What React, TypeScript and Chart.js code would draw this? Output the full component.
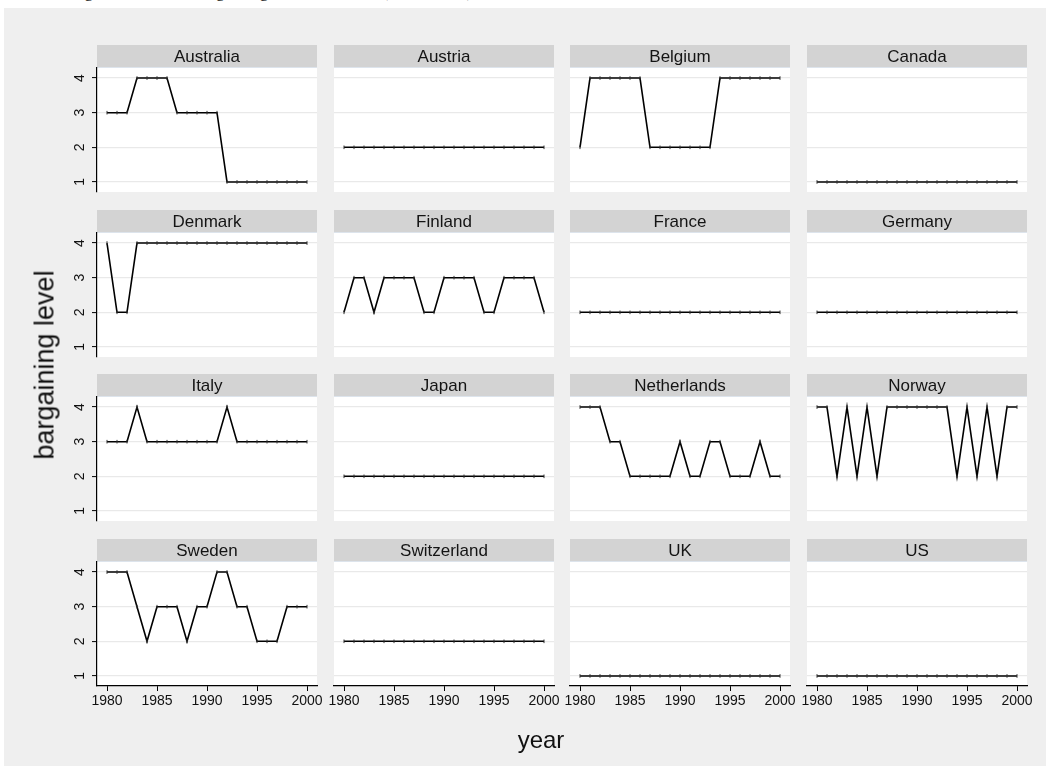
import React, { useEffect, useRef } from "react";
import { Chart, registerables } from "chart.js";

Chart.register(...registerables);

// ---------------- data ----------------
const years = [1980, 1981, 1982, 1983, 1984, 1985, 1986, 1987, 1988, 1989, 1990, 1991, 1992, 1993, 1994, 1995, 1996, 1997, 1998, 1999, 2000];
const countries = ["Australia", "Austria", "Belgium", "Canada", "Denmark", "Finland", "France", "Germany", "Italy", "Japan", "Netherlands", "Norway", "Sweden", "Switzerland", "UK", "US"];
const australia = [3, 3, 3, 4, 4, 4, 4, 3, 3, 3, 3, 3, 1, 1, 1, 1, 1, 1, 1, 1, 1];
const austria = [2, 2, 2, 2, 2, 2, 2, 2, 2, 2, 2, 2, 2, 2, 2, 2, 2, 2, 2, 2, 2];
const belgium = [2, 4, 4, 4, 4, 4, 4, 2, 2, 2, 2, 2, 2, 2, 4, 4, 4, 4, 4, 4, 4];
const canada = [1, 1, 1, 1, 1, 1, 1, 1, 1, 1, 1, 1, 1, 1, 1, 1, 1, 1, 1, 1, 1];
const denmark = [4, 2, 2, 4, 4, 4, 4, 4, 4, 4, 4, 4, 4, 4, 4, 4, 4, 4, 4, 4, 4];
const finland = [2, 3, 3, 2, 3, 3, 3, 3, 2, 2, 3, 3, 3, 3, 2, 2, 3, 3, 3, 3, 2];
const france = [2, 2, 2, 2, 2, 2, 2, 2, 2, 2, 2, 2, 2, 2, 2, 2, 2, 2, 2, 2, 2];
const germany = [2, 2, 2, 2, 2, 2, 2, 2, 2, 2, 2, 2, 2, 2, 2, 2, 2, 2, 2, 2, 2];
const italy = [3, 3, 3, 4, 3, 3, 3, 3, 3, 3, 3, 3, 4, 3, 3, 3, 3, 3, 3, 3, 3];
const japan = [2, 2, 2, 2, 2, 2, 2, 2, 2, 2, 2, 2, 2, 2, 2, 2, 2, 2, 2, 2, 2];
const netherlands = [4, 4, 4, 3, 3, 2, 2, 2, 2, 2, 3, 2, 2, 3, 3, 2, 2, 2, 3, 2, 2];
const norway = [4, 4, 2, 4, 2, 4, 2, 4, 4, 4, 4, 4, 4, 4, 2, 4, 2, 4, 2, 4, 4];
const sweden = [4, 4, 4, 3, 2, 3, 3, 3, 2, 3, 3, 4, 4, 3, 3, 2, 2, 2, 3, 3, 3];
const switzerland = [2, 2, 2, 2, 2, 2, 2, 2, 2, 2, 2, 2, 2, 2, 2, 2, 2, 2, 2, 2, 2];
const uk = [1, 1, 1, 1, 1, 1, 1, 1, 1, 1, 1, 1, 1, 1, 1, 1, 1, 1, 1, 1, 1];
const us = [1, 1, 1, 1, 1, 1, 1, 1, 1, 1, 1, 1, 1, 1, 1, 1, 1, 1, 1, 1, 1];
const xTicks = [1980, 1985, 1990, 1995, 2000];
const yTicks = [1, 2, 3, 4];
const xTitle = "year";
const yTitle = "bargaining level";
const pageTitle = "Figure 1: Central bargaining level over time (1980\u20132000)";

const seriesList = [australia, austria, belgium, canada, denmark, finland, france, germany, italy, japan, netherlands, norway, sweden, switzerland, uk, us];

// ---------------- layout ----------------
const COL0 = 97;
const COL_STEP = 236.67;
const PANEL_W = 220;
const ROW0 = 45;
const ROW_STEP = 164.67;
const HEADER_H = 23;
const PLOT_H = 124;
const MARGIN_L = 45;
const MARGIN_R = 20;
const MARGIN_B = 45;
const FONT = '"Liberation Sans", Arial, Helvetica, sans-serif';

const stripPlugin = {
  id: "panelStrip",
  beforeDraw(chart: any, _args: any, opts: any) {
    const { ctx, chartArea: a } = chart;
    ctx.save();
    ctx.fillStyle = "#ffffff";
    ctx.fillRect(a.left, a.top, a.right - a.left, a.bottom - a.top);
    ctx.fillStyle = "#d3d3d3";
    ctx.fillRect(a.left, a.top - HEADER_H, a.right - a.left, HEADER_H);
    ctx.fillStyle = "#dde4ec";
    ctx.fillRect(a.left, a.top - 1, a.right - a.left, 1);
    ctx.fillStyle = "#141414";
    ctx.font = "17px " + FONT;
    ctx.textAlign = "center";
    ctx.textBaseline = "middle";
    ctx.fillText(opts.label, (a.left + a.right) / 2, a.top - HEADER_H / 2 + 1);
    ctx.restore();
  },
};

function Panel({ index }: { index: number }) {
  const ref = useRef<HTMLCanvasElement | null>(null);
  const col = index % 4;
  const row = Math.floor(index / 4);
  const isLeft = col === 0;
  const isBottom = row === 3;
  const left = Math.round(COL0 + col * COL_STEP) - MARGIN_L;
  const top = Math.round(ROW0 + row * ROW_STEP);
  const width = MARGIN_L + PANEL_W + MARGIN_R;
  const height = HEADER_H + PLOT_H + MARGIN_B;

  useEffect(() => {
    if (!ref.current) return;
    const vals = seriesList[index];
    const chart = new Chart(ref.current, {
      type: "line",
      data: {
        datasets: [
          {
            data: years.map((y, i) => ({ x: y, y: vals[i] })),
            borderColor: "#000000",
            borderWidth: 1.6,
            tension: 0,
            pointStyle: "line",
            pointRotation: 90,
            pointRadius: 1.8,
            pointBorderWidth: 1,
            pointBorderColor: "#333333",
            pointBackgroundColor: "#333333",
          },
        ],
      },
      options: {
        animation: false,
        responsive: false,
        events: [],
        layout: {
          padding: {
            top: HEADER_H,
            left: isLeft ? 0 : MARGIN_L,
            right: MARGIN_R,
            bottom: isBottom ? 0 : MARGIN_B,
          },
        },
        plugins: {
          legend: { display: false },
          tooltip: { enabled: false },
          panelStrip: { label: countries[index] },
        } as any,
        scales: {
          x: {
            type: "linear",
            min: 1979,
            max: 2001,
            display: isBottom,
            afterBuildTicks: (s: any) => {
              s.ticks = xTicks.map((v) => ({ value: v }));
            },
            afterFit: (s: any) => {
              s.height = isBottom ? MARGIN_B : 0;
            },
            grid: {
              display: true,
              drawOnChartArea: false,
              drawTicks: true,
              tickLength: 5,
              tickColor: "#000000",
              tickWidth: 1,
            },
            border: { display: true, color: "#000000", width: 1.2 },
            ticks: {
              color: "#111111",
              font: { family: FONT, size: 14 },
              padding: 2,
              maxRotation: 0,
              minRotation: 0,
              autoSkip: false,
              callback: (v: any) => String(v),
            },
          },
          y: {
            type: "linear",
            min: 0.71,
            max: 4.29,
            display: true,
            afterBuildTicks: (s: any) => {
              s.ticks = yTicks.map((v) => ({ value: v }));
            },
            afterFit: (s: any) => {
              s.width = isLeft ? MARGIN_L : 0;
            },
            grid: {
              display: true,
              drawOnChartArea: true,
              drawTicks: isLeft,
              tickLength: 5,
              color: "#e9e9e9",
              lineWidth: 1.2,
              tickColor: "#000000",
              tickWidth: 1,
            },
            border: { display: isLeft, color: "#000000", width: 1.2 },
            ticks: {
              display: isLeft,
              color: "#111111",
              font: { family: FONT, size: 14 },
              padding: 8,
              crossAlign: "center",
              minRotation: 90,
              maxRotation: 90,
              autoSkip: false,
              callback: (v: any) => String(v),
            },
          },
        },
      },
      plugins: [stripPlugin as any],
    } as any);
    return () => chart.destroy();
  }, [index]);

  return (
    <canvas
      ref={ref}
      width={width}
      height={height}
      style={{ position: "absolute", left, top, width, height }}
    />
  );
}

export default function App() {
  return (
    <div
      style={{
        position: "absolute",
        left: 0,
        top: 0,
        width: 1050,
        height: 773,
        overflow: "hidden",
        background: "#ffffff",
      }}
    >
      <div
        style={{
          position: "absolute",
          left: 70,
          top: -17,
          lineHeight: "16px",
          fontSize: 17.5,
          fontFamily: '"Liberation Serif", "Times New Roman", serif',
          whiteSpace: "nowrap",
          color: "#222",
        }}
      >
        {pageTitle}
      </div>
      <div
        style={{
          position: "absolute",
          left: 4,
          top: 8,
          width: 1042,
          height: 758,
          background: "#efefef",
        }}
      />
      {countries.map((c, i) => (
        <Panel key={c} index={i} />
      ))}
      <div
        style={{
          position: "absolute",
          left: 45,
          top: 365,
          transform: "translate(-50%, -50%) rotate(-90deg)",
          fontFamily: FONT,
          fontSize: 27,
          color: "#111",
          whiteSpace: "nowrap",
        }}
      >
        {yTitle}
      </div>
      <div
        style={{
          position: "absolute",
          left: 541,
          top: 740,
          transform: "translate(-50%, -50%)",
          fontFamily: FONT,
          fontSize: 24,
          color: "#111",
          whiteSpace: "nowrap",
        }}
      >
        {xTitle}
      </div>
    </div>
  );
}
